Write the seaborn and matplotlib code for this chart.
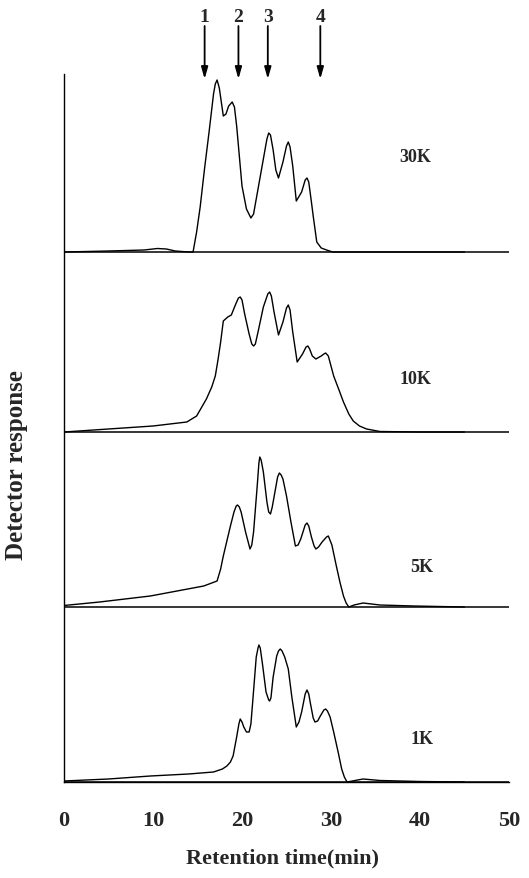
import numpy as np
import pandas as pd
import matplotlib
matplotlib.use("Agg")
import matplotlib.pyplot as plt
import seaborn as sns

# ---- data ----
samples = ["30K", "10K", "5K", "1K"]
offsets = [530, 350, 175, 0]  # vertical stacking offsets (detector units)

x_30k = [0, 5, 9, 10.5, 11.5, 12.5, 14.0, 14.5, 14.9, 15.3, 15.8, 16.3, 16.8, 17.0, 17.2, 17.45, 17.9,
         18.2, 18.5, 18.9, 19.15, 19.4, 20.0, 20.5, 21.0, 21.3, 21.6, 22.2, 22.8, 23.0, 23.2, 23.5, 23.8, 24.1, 24.6,
         25.0, 25.2, 25.4, 25.7, 26.1, 26.7, 27.1, 27.3, 27.5, 27.8, 28.0, 28.4, 28.9, 29.5, 30.2, 35, 40, 45]
y_30k = [0, 1, 2, 3.5, 3, 1, 0, 0, 20, 45, 84, 120, 158, 168, 172, 164, 136,
         138, 146, 150, 145, 126, 66, 43, 34, 38, 53, 83, 113, 119, 117, 102, 82, 74, 90,
         106, 110, 105, 86, 51, 60, 72, 74, 70, 50, 36, 10, 4, 2, 0, 0, 0, 0]

x_10k = [0, 5, 10, 13.8, 14.9, 16.0, 16.6, 17.0, 17.3, 17.6, 17.9, 18.4, 18.8, 19.3, 19.6, 19.8, 20.0,
         20.3, 20.8, 21.1, 21.3, 21.5, 21.8, 22.4, 22.9, 23.1, 23.3, 23.6, 24.1, 24.6, 25.0, 25.2, 25.4, 25.7, 26.2, 26.8, 27.2, 27.4,
         27.6, 27.9, 28.3, 28.9, 29.2, 29.4, 29.7, 30.3, 30.9, 31.4, 32.0, 32.5, 33.2, 34.0, 35.5, 40, 45]
y_10k = [0, 3, 6, 10, 16, 33, 45, 56, 72, 90, 111, 115, 117, 128, 134, 135, 132,
         118, 98, 88, 86, 88, 100, 125, 138, 140, 136, 120, 97, 110, 124, 127, 122, 100, 70, 78, 85, 86,
         83, 76, 73, 76, 78, 79, 76, 56, 42, 30, 18, 11, 6, 3, 0.5, 0, 0]

x_5k = [0, 4, 9.7, 15.7, 17.2, 17.6, 17.9, 18.3, 18.7, 19.1, 19.35, 19.5, 19.7, 19.9, 20.4, 20.9, 21.1, 21.3,
        21.7, 21.9, 22.0, 22.15, 22.4, 22.8, 23.0, 23.2, 23.4, 23.7, 24.0, 24.2, 24.4, 24.6, 25.0, 25.5, 26.0, 26.3, 26.6, 27.1, 27.3, 27.5, 27.8,
        28.1, 28.3, 28.6, 29.0, 29.5, 29.7, 30.1, 30.6, 31.0, 31.4, 31.7, 32.0, 32.6, 33.6, 35.5, 39.3, 45]
y_5k = [1.5, 5, 11, 21, 26, 38, 51, 66, 81, 95, 101, 102, 100, 95, 75, 58, 62, 75,
        120, 144, 150, 147, 135, 105, 95, 93, 100, 115, 130, 134, 132, 128, 111, 85, 61, 62, 68, 82, 84, 81, 70,
        61, 58, 60, 65, 70, 71, 62, 41, 25, 11, 4, 0, 2, 4, 2, 1, 0]

x_1k = [0, 5, 9.7, 14, 16.8, 17.8, 18.3, 18.7, 19.0, 19.4, 19.65, 19.8, 20.0, 20.2, 20.5, 20.8, 21.0, 21.2, 21.6,
        21.8, 21.9, 22.05, 22.3, 22.7, 23.0, 23.1, 23.25, 23.5, 23.9, 24.1, 24.3, 24.5, 24.8, 25.2, 25.6, 26.1, 26.4, 26.7, 27.1, 27.3, 27.5, 27.7,
        28.0, 28.2, 28.5, 28.8, 29.2, 29.4, 29.6, 29.9, 30.3, 30.8, 31.2, 31.5, 31.8, 32.4, 33.6, 35.5, 40, 45]
y_1k = [1, 3, 6, 8, 10, 13, 16, 20, 26, 45, 58, 63, 60, 55, 50, 50, 58, 80, 125,
        134, 137, 134, 118, 90, 82, 81, 84, 105, 126, 131, 133, 131, 125, 113, 85, 55, 60, 70, 88, 92, 88, 78,
        64, 60, 61, 66, 72, 73, 71, 65, 50, 30, 13, 5, 0, 1, 3, 1.5, 0.5, 0]

traces_x = [x_30k, x_10k, x_5k, x_1k]
traces_y = [y_30k, y_10k, y_5k, y_1k]

arrow_labels = ["1", "2", "3", "4"]
arrow_x = [15.8, 19.6, 22.9, 28.8]

x_ticks = [0, 10, 20, 30, 40, 50]

# ---- build long table ----
frames = []
for name, off, xs, ys in zip(samples, offsets, traces_x, traces_y):
    frames.append(pd.DataFrame({"time": xs, "resp": np.array(ys) + off, "sample": name}))
df = pd.concat(frames, ignore_index=True)

sns.set_style("white")
plt.rcParams["font.family"] = ["Liberation Serif", "DejaVu Serif"]
plt.rcParams["font.weight"] = "bold"

fig = plt.figure(figsize=(5.29, 8.79), dpi=100)
ax = fig.add_axes([64 / 529, 1 - 783 / 879, (509 - 64) / 529, (783 - 75) / 879])

sns.lineplot(data=df, x="time", y="resp", units="sample", estimator=None,
             color="black", lw=1.0, sort=False, ax=ax, legend=False)

# separator baselines
ax.hlines(offsets, 0, 50, color="black", lw=1.1)

# sample labels
label_pos = [(39.5, 626), (39.5, 403), (40.2, 216), (40.2, 43)]
for name, (lx, ly) in zip(samples, label_pos):
    ax.text(lx, ly, name, fontsize=13, fontweight="bold", ha="center", va="center")

# arrows
for lab, xa in zip(arrow_labels, arrow_x):
    ax.annotate("", xy=(xa, 703), xytext=(xa, 756), annotation_clip=False,
                arrowprops=dict(arrowstyle="-|>,head_length=0.7,head_width=0.2",
                                color="black", lw=1.3, shrinkA=0, shrinkB=0))
    ax.text(xa, 766, lab, fontsize=14, fontweight="bold", ha="center", va="center",
            clip_on=False)

ax.set_xlim(0, 50)
ax.set_ylim(0, 708)
ax.set_xticks(x_ticks)
ax.set_xticklabels([str(t) for t in x_ticks], fontsize=16, fontweight="bold")
ax.set_yticks([])
ax.tick_params(axis="x", direction="out", length=8, width=1, pad=12, color="black")
for s in ["top", "right"]:
    ax.spines[s].set_visible(False)
for s in ["left", "bottom"]:
    ax.spines[s].set_color("black")
    ax.spines[s].set_linewidth(1.0)

ax.set_xlabel("")
ax.set_ylabel("")
fig.text(282 / 529, 1 - 858 / 879, "Retention time(min)", fontsize=16, fontweight="bold",
         ha="center", va="center")
fig.text(17 / 529, 1 - 465 / 879, "Detector response", fontsize=18, fontweight="bold",
         ha="center", va="center", rotation=90)

fig.savefig("out.png", dpi=100)
